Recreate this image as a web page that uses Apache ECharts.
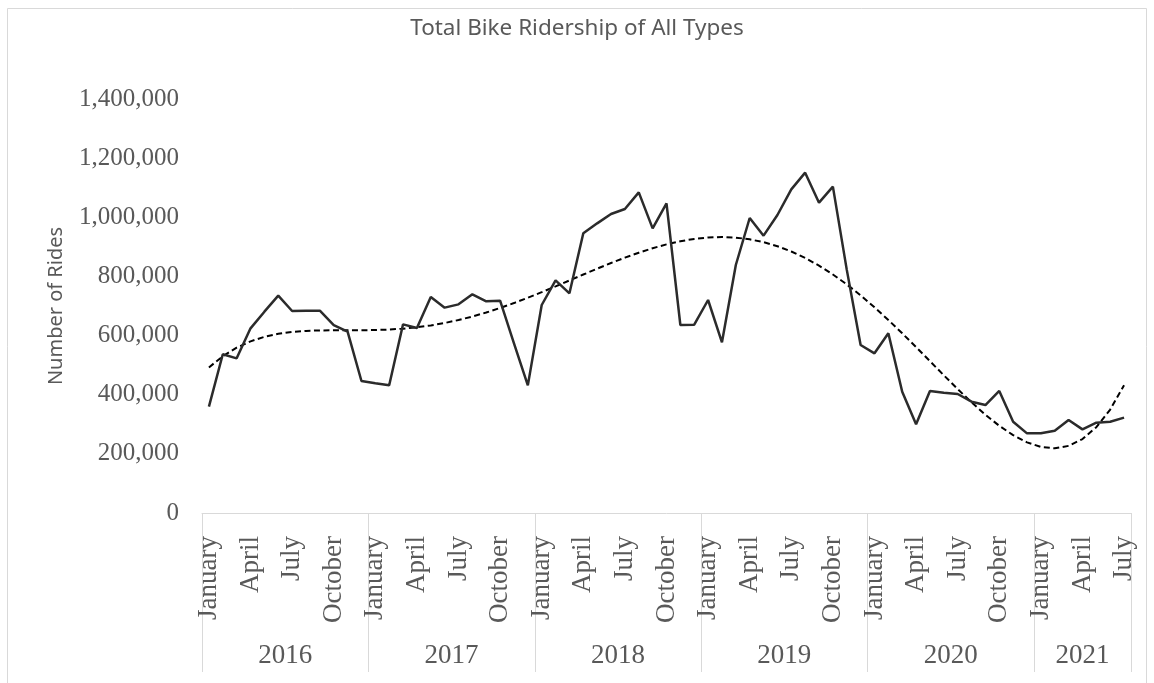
<!DOCTYPE html>
<html>
<head>
<meta charset="utf-8">
<script src="https://cdn.jsdelivr.net/npm/echarts@6/dist/echarts.min.js"></script>
<style>
html,body{margin:0;padding:0;background:#fff;}
#chart{width:1154px;height:683px;}
</style>
</head>
<body>
<div id="chart"></div>
<script>
// ---- data ----
const years = ['2016', '2017', '2018', '2019', '2020', '2021'];
const monthNames = ['January','February','March','April','May','June','July','August','September','October','November','December'];
const monthsPerYear = [12, 12, 12, 12, 12, 7];
const rides2016 = [359500, 536700, 523000, 624500, 680800, 735000, 683000, 684200, 684000, 635700, 613200, 446400];
const rides2017 = [438500, 431700, 638000, 625600, 730400, 694400, 705600, 739400, 715800, 718000, 573700, 431700];
const rides2018 = [703400, 786800, 742800, 945700, 979500, 1011000, 1028000, 1084400, 962600, 1047200, 635700, 637000];
const rides2019 = [720300, 577100, 838600, 997600, 937900, 1007700, 1094500, 1150900, 1049400, 1103600, 823000, 568100];
const rides2020 = [540000, 607600, 410300, 299800, 412600, 406900, 402400, 376500, 365200, 412600, 308800, 269400];
const rides2021 = [269400, 278400, 314500, 282900, 305500, 308800, 322400];
const yTicks = [0, 200000, 400000, 600000, 800000, 1000000, 1200000, 1400000];
const trendOrder = 5; // polynomial trendline (least squares on the ride data)

// ---- build ----
const rides = [].concat(rides2016, rides2017, rides2018, rides2019, rides2020, rides2021);
const categories = [];
years.forEach((y, k) => { for (let m = 0; m < monthsPerYear[k]; m++) categories.push(y + ' ' + monthNames[m]); });

function polyFit(ys, order) {
  const n = ys.length, c = (n - 1) / 2;
  const ts = ys.map((_, i) => (i - c) / c);
  const m = order + 1;
  const A = [], b = [];
  for (let r = 0; r < m; r++) {
    A.push([]);
    for (let q = 0; q < m; q++) { let s = 0; ts.forEach(t => s += Math.pow(t, r + q)); A[r].push(s); }
    let s = 0; ts.forEach((t, i) => s += Math.pow(t, r) * ys[i]); b.push(s);
  }
  for (let col = 0; col < m; col++) {
    let piv = col;
    for (let r = col + 1; r < m; r++) if (Math.abs(A[r][col]) > Math.abs(A[piv][col])) piv = r;
    [A[col], A[piv]] = [A[piv], A[col]]; [b[col], b[piv]] = [b[piv], b[col]];
    for (let r = 0; r < m; r++) {
      if (r === col) continue;
      const f = A[r][col] / A[col][col];
      for (let q = col; q < m; q++) A[r][q] -= f * A[col][q];
      b[r] -= f * b[col];
    }
  }
  const coef = b.map((v, i) => v / A[i][i]);
  return ts.map(t => coef.reduce((s, a, p) => s + a * Math.pow(t, p), 0));
}
const trend = polyFit(rides, trendOrder);

// year axis on half-month steps, from the left edge to the right edge of the plot
const nHalf = categories.length * 2 + 1;
const yearAxisData = new Array(nHalf).fill('');
const boundaries = new Set([0]);
let start = 0;
years.forEach((y, k) => {
  const end = start + monthsPerYear[k] * 2;
  yearAxisData[(start + end) / 2] = y;
  boundaries.add(end);
  start = end;
});

const serif = 'Liberation Serif';
const grey = '#595959';
const chart = echarts.init(document.getElementById('chart'));
chart.setOption({
  animation: false,
  backgroundColor: '#fff',
  title: {
    text: 'Total Bike Ridership of All Types',
    left: 'center', top: 12,
    textStyle: { fontFamily: 'Noto Sans', fontSize: 22.5, fontWeight: 'normal', color: grey }
  },
  graphic: [{
    type: 'rect', silent: true,
    shape: { x: 7.5, y: 8.5, width: 1139, height: 700 },
    style: { fill: 'none', stroke: '#d9d9d9', lineWidth: 1 }
  }],
  grid: { left: 202, right: 23, top: 99, bottom: 170 },
  xAxis: [{
    type: 'category', position: 'bottom', offset: 0,
    data: categories, boundaryGap: true,
    axisLine: { show: false },
    axisTick: { show: false },
    axisLabel: {
      interval: (i) => i % 3 === 0,
      rotate: 90, margin: 23,
      formatter: (v) => v.split(' ')[1],
      fontFamily: serif, fontSize: 27, color: grey
    }
  }, {
    type: 'category', position: 'bottom', offset: 0,
    data: yearAxisData, boundaryGap: false,
    axisLine: { show: true, lineStyle: { color: '#d9d9d9', width: 1 } },
    axisTick: { show: true, interval: (i) => boundaries.has(i), length: 159, lineStyle: { color: '#d9d9d9', width: 1 } },
    axisLabel: {
      interval: (i) => yearAxisData[i] !== '',
      margin: 129, fontFamily: serif, fontSize: 27, color: grey
    }
  }],
  yAxis: {
    type: 'value', min: yTicks[0], max: yTicks[yTicks.length - 1], interval: yTicks[1] - yTicks[0],
    splitLine: { show: false }, axisLine: { show: false }, axisTick: { show: false },
    axisLabel: {
      margin: 23, fontFamily: serif, fontSize: 25, color: grey,
      formatter: (v) => v.toLocaleString('en-US')
    },
    name: 'Number of Rides', nameLocation: 'middle', nameRotate: 90, nameGap: 136,
    nameTextStyle: { fontFamily: 'Noto Sans', fontSize: 20, color: grey }
  },
  series: [{
    name: 'Rides', type: 'line', xAxisIndex: 0, data: rides, showSymbol: false,
    lineStyle: { color: '#2b2b2b', width: 2.5 }, z: 3
  }, {
    name: 'Trend', type: 'line', xAxisIndex: 0, data: trend.map(v => Math.round(v)), showSymbol: false,
    lineStyle: { color: '#000', width: 2, type: [6, 3.5] }, z: 2
  }]
});
</script>
</body>
</html>
